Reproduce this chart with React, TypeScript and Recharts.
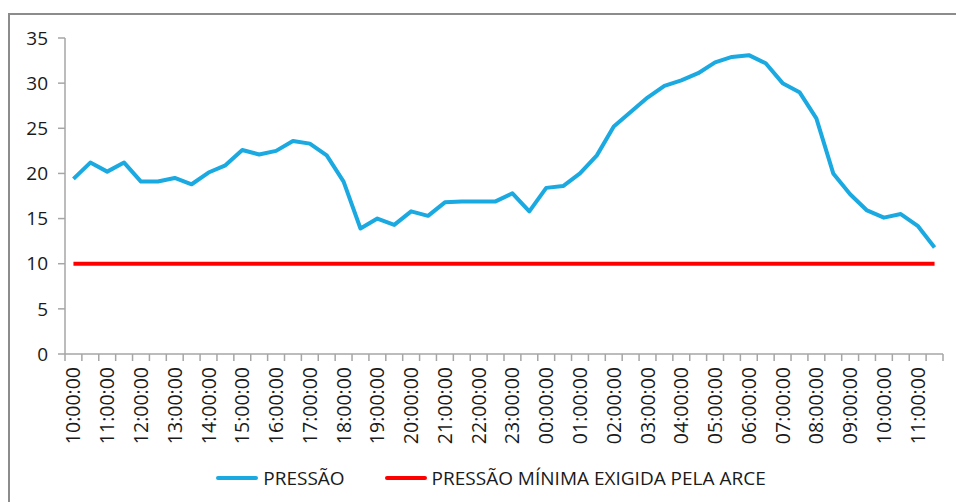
import React from 'react'
import { Legend, Line, LineChart, XAxis, YAxis } from 'recharts'

const times = [
  '10:00:00', '10:30:00', '11:00:00', '11:30:00', '12:00:00', '12:30:00', '13:00:00', '13:30:00',
  '14:00:00', '14:30:00', '15:00:00', '15:30:00', '16:00:00', '16:30:00', '17:00:00', '17:30:00',
  '18:00:00', '18:30:00', '19:00:00', '19:30:00', '20:00:00', '20:30:00', '21:00:00', '21:30:00',
  '22:00:00', '22:30:00', '23:00:00', '23:30:00', '00:00:00', '00:30:00', '01:00:00', '01:30:00',
  '02:00:00', '02:30:00', '03:00:00', '03:30:00', '04:00:00', '04:30:00', '05:00:00', '05:30:00',
  '06:00:00', '06:30:00', '07:00:00', '07:30:00', '08:00:00', '08:30:00', '09:00:00', '09:30:00',
  '10:00:00', '10:30:00', '11:00:00', '11:30:00'
]

const pressao = [
  19.4, 21.2, 20.2, 21.2, 19.1, 19.1, 19.5, 18.8, 20.1, 20.9, 22.6, 22.1, 22.5,
  23.6, 23.3, 22.0, 19.1, 13.9, 15.0, 14.3, 15.8, 15.3, 16.8, 16.9, 16.9, 16.9,
  17.8, 15.8, 18.4, 18.6, 20.0, 22.0, 25.2, 26.8, 28.4, 29.7, 30.3, 31.1, 32.3,
  32.9, 33.1, 32.2, 30.0, 29.0, 26.1, 20.0, 17.7, 15.9, 15.1, 15.5, 14.2, 11.8
]

const minima = [
  10, 10, 10, 10, 10, 10, 10, 10, 10, 10, 10, 10, 10,
  10, 10, 10, 10, 10, 10, 10, 10, 10, 10, 10, 10, 10,
  10, 10, 10, 10, 10, 10, 10, 10, 10, 10, 10, 10, 10,
  10, 10, 10, 10, 10, 10, 10, 10, 10, 10, 10, 10, 10
]

const yTicks = [0, 5, 10, 15, 20, 25, 30, 35]

const data = times.map((t, i) => ({ idx: i, time: t, pressao: pressao[i], minima: minima[i] }))

// tick marks sit on category boundaries, labels on the hourly points
const xTicks: number[] = []
for (let i = 0; i <= times.length; i++) {
  xTicks.push(i - 0.5)
  if (i < times.length && i % 2 === 0) xTicks.push(i)
}

const font = '"Open Sans", sans-serif'
const axisColor = '#a6a6a6'

function TimeTick(props: any) {
  const { x, y, payload } = props
  const v = payload.value
  if (!Number.isInteger(v)) {
    return <line x1={x} y1={y} x2={x} y2={y + 7} stroke={axisColor} strokeWidth={1.5} />
  }
  return (
    <g transform={`translate(${x},${y + 13})`}>
      <text
        transform="rotate(-90)"
        textAnchor="end"
        dy="0.36em"
        fontFamily={font}
        fontSize={19.5}
        fill="#1a1a1a"
      >
        {times[v]}
      </text>
    </g>
  )
}

function LegendBox() {
  const item = (color: string, label: string) => (
    <div style={{ display: 'flex', alignItems: 'center' }}>
      <span style={{ display: 'inline-block', width: 42, height: 4, background: color, marginRight: 5, borderRadius: 2 }} />
      <span>{label}</span>
    </div>
  )
  return (
    <div
      style={{
        display: 'flex',
        justifyContent: 'center',
        gap: 40,
        paddingLeft: 26,
        fontFamily: font,
        fontSize: 19,
        color: '#1a1a1a'
      }}
    >
      {item('#1aa9e0', 'PRESSÃO')}
      {item('#ff0000', 'PRESSÃO MÍNIMA EXIGIDA PELA ARCE')}
    </div>
  )
}

export default function App() {
  return (
    <div style={{ position: 'absolute', left: 0, top: 0, width: 956, height: 502, background: '#fff', overflow: 'hidden' }}>
      <div
        style={{
          position: 'absolute',
          left: 8,
          top: 13,
          width: 1000,
          height: 600,
          borderTop: '2px solid #8c8c8c',
          borderLeft: '2px solid #8c8c8c'
        }}
      />
      <div style={{ position: 'absolute', left: 0, top: 0 }}>
        <LineChart width={956} height={502} data={data} margin={{ top: 38, right: 13, bottom: 48, left: 0 }}>
          <XAxis
            dataKey="idx"
            type="number"
            domain={[-0.5, times.length - 0.5]}
            ticks={xTicks}
            interval={0}
            tick={<TimeTick />}
            tickLine={false}
            tickSize={0}
            tickMargin={0}
            height={100}
            axisLine={{ stroke: axisColor, strokeWidth: 1.5 }}
          />
          <YAxis
            domain={[0, 35]}
            ticks={yTicks}
            width={65}
            tickSize={7}
            tickMargin={10}
            axisLine={{ stroke: axisColor, strokeWidth: 1.5 }}
            tickLine={{ stroke: axisColor, strokeWidth: 1.5 }}
            tick={{ fontFamily: font, fontSize: 19, fill: '#1a1a1a' }}
          />
          <Legend
            layout="horizontal"
            verticalAlign="middle"
            align="center"
            wrapperStyle={{ top: 465, left: 0, width: 956 }}
            content={<LegendBox />}
          />
          <Line
            dataKey="minima"
            name="PRESSÃO MÍNIMA EXIGIDA PELA ARCE"
            stroke="#ff0000"
            strokeWidth={4}
            dot={false}
            activeDot={false}
            isAnimationActive={false}
          />
          <Line
            dataKey="pressao"
            name="PRESSÃO"
            stroke="#1aa9e0"
            strokeWidth={4}
            strokeLinejoin="round"
            dot={false}
            activeDot={false}
            isAnimationActive={false}
          />
        </LineChart>
      </div>
    </div>
  )
}
